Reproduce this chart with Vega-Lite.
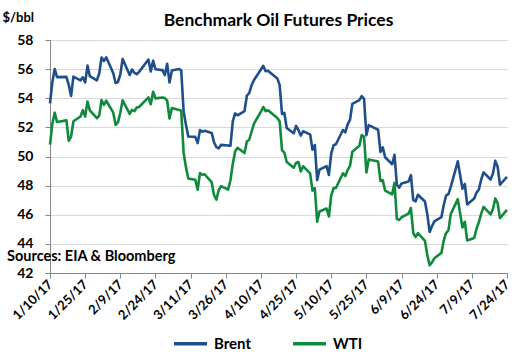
{
  "$schema": "https://vega.github.io/schema/vega-lite/v6.json",
  "width": 457,
  "height": 233,
  "autosize": {"type": "none"},
  "padding": {"left": 50, "top": 40, "right": 24, "bottom": 82},
  "background": "white",
  "config": {"font": "Lato", "view": {"stroke": null}},
  "title": {"text": "Benchmark Oil Futures Prices", "fontSize": 17.5, "fontWeight": "bold", "color": "#000000", "anchor": "middle", "offset": -18},
  "datasets": {
    "raw": [
      {"date": "2017-01-10", "Brent": 53.64, "WTI": 50.82},
      {"date": "2017-01-11", "Brent": 55.10, "WTI": 52.25},
      {"date": "2017-01-12", "Brent": 56.01, "WTI": 53.01},
      {"date": "2017-01-13", "Brent": 55.45, "WTI": 52.37},
      {"date": "2017-01-17", "Brent": 55.47, "WTI": 52.48},
      {"date": "2017-01-18", "Brent": 54.92, "WTI": 51.08},
      {"date": "2017-01-19", "Brent": 54.16, "WTI": 51.37},
      {"date": "2017-01-20", "Brent": 55.49, "WTI": 52.42},
      {"date": "2017-01-23", "Brent": 55.23, "WTI": 52.75},
      {"date": "2017-01-24", "Brent": 55.44, "WTI": 53.18},
      {"date": "2017-01-25", "Brent": 55.08, "WTI": 52.75},
      {"date": "2017-01-26", "Brent": 56.24, "WTI": 53.78},
      {"date": "2017-01-27", "Brent": 55.52, "WTI": 53.17},
      {"date": "2017-01-30", "Brent": 55.23, "WTI": 52.63},
      {"date": "2017-01-31", "Brent": 55.70, "WTI": 52.81},
      {"date": "2017-02-01", "Brent": 56.80, "WTI": 53.88},
      {"date": "2017-02-02", "Brent": 56.56, "WTI": 53.54},
      {"date": "2017-02-03", "Brent": 56.81, "WTI": 53.83},
      {"date": "2017-02-06", "Brent": 55.72, "WTI": 53.01},
      {"date": "2017-02-07", "Brent": 55.05, "WTI": 52.17},
      {"date": "2017-02-08", "Brent": 55.12, "WTI": 52.34},
      {"date": "2017-02-09", "Brent": 55.63, "WTI": 53.00},
      {"date": "2017-02-10", "Brent": 56.70, "WTI": 53.86},
      {"date": "2017-02-13", "Brent": 55.59, "WTI": 52.93},
      {"date": "2017-02-14", "Brent": 55.97, "WTI": 53.20},
      {"date": "2017-02-15", "Brent": 55.75, "WTI": 53.11},
      {"date": "2017-02-16", "Brent": 55.65, "WTI": 53.36},
      {"date": "2017-02-17", "Brent": 55.81, "WTI": 53.40},
      {"date": "2017-02-21", "Brent": 56.66, "WTI": 54.06},
      {"date": "2017-02-22", "Brent": 55.84, "WTI": 53.59},
      {"date": "2017-02-23", "Brent": 56.58, "WTI": 54.45},
      {"date": "2017-02-24", "Brent": 55.99, "WTI": 53.99},
      {"date": "2017-02-27", "Brent": 55.93, "WTI": 54.05},
      {"date": "2017-02-28", "Brent": 55.59, "WTI": 54.01},
      {"date": "2017-03-01", "Brent": 56.36, "WTI": 53.83},
      {"date": "2017-03-02", "Brent": 55.08, "WTI": 52.61},
      {"date": "2017-03-03", "Brent": 55.90, "WTI": 53.33},
      {"date": "2017-03-06", "Brent": 56.01, "WTI": 53.20},
      {"date": "2017-03-07", "Brent": 55.92, "WTI": 53.14},
      {"date": "2017-03-08", "Brent": 53.11, "WTI": 50.28},
      {"date": "2017-03-09", "Brent": 52.19, "WTI": 49.28},
      {"date": "2017-03-10", "Brent": 51.37, "WTI": 48.49},
      {"date": "2017-03-13", "Brent": 51.35, "WTI": 48.40},
      {"date": "2017-03-14", "Brent": 50.92, "WTI": 47.72},
      {"date": "2017-03-15", "Brent": 51.81, "WTI": 48.86},
      {"date": "2017-03-16", "Brent": 51.70, "WTI": 48.75},
      {"date": "2017-03-17", "Brent": 51.76, "WTI": 48.78},
      {"date": "2017-03-20", "Brent": 51.62, "WTI": 48.22},
      {"date": "2017-03-21", "Brent": 50.96, "WTI": 47.34},
      {"date": "2017-03-22", "Brent": 50.64, "WTI": 47.04},
      {"date": "2017-03-23", "Brent": 50.56, "WTI": 47.70},
      {"date": "2017-03-24", "Brent": 50.80, "WTI": 47.97},
      {"date": "2017-03-27", "Brent": 50.75, "WTI": 47.73},
      {"date": "2017-03-28", "Brent": 50.75, "WTI": 48.37},
      {"date": "2017-03-29", "Brent": 52.42, "WTI": 49.51},
      {"date": "2017-03-30", "Brent": 52.96, "WTI": 50.35},
      {"date": "2017-03-31", "Brent": 52.83, "WTI": 50.60},
      {"date": "2017-04-03", "Brent": 53.12, "WTI": 50.24},
      {"date": "2017-04-04", "Brent": 54.17, "WTI": 51.03},
      {"date": "2017-04-05", "Brent": 54.36, "WTI": 51.15},
      {"date": "2017-04-06", "Brent": 54.89, "WTI": 51.70},
      {"date": "2017-04-07", "Brent": 55.24, "WTI": 52.24},
      {"date": "2017-04-10", "Brent": 55.98, "WTI": 53.08},
      {"date": "2017-04-11", "Brent": 56.23, "WTI": 53.40},
      {"date": "2017-04-12", "Brent": 55.86, "WTI": 53.11},
      {"date": "2017-04-13", "Brent": 55.89, "WTI": 53.18},
      {"date": "2017-04-17", "Brent": 55.36, "WTI": 52.65},
      {"date": "2017-04-18", "Brent": 54.89, "WTI": 52.41},
      {"date": "2017-04-19", "Brent": 52.93, "WTI": 50.44},
      {"date": "2017-04-20", "Brent": 52.99, "WTI": 50.27},
      {"date": "2017-04-21", "Brent": 51.96, "WTI": 49.62},
      {"date": "2017-04-24", "Brent": 51.60, "WTI": 49.23},
      {"date": "2017-04-25", "Brent": 52.10, "WTI": 49.56},
      {"date": "2017-04-26", "Brent": 51.82, "WTI": 49.62},
      {"date": "2017-04-27", "Brent": 51.44, "WTI": 48.97},
      {"date": "2017-04-28", "Brent": 51.73, "WTI": 49.33},
      {"date": "2017-05-01", "Brent": 51.52, "WTI": 48.84},
      {"date": "2017-05-02", "Brent": 50.46, "WTI": 47.66},
      {"date": "2017-05-03", "Brent": 50.79, "WTI": 47.82},
      {"date": "2017-05-04", "Brent": 48.38, "WTI": 45.52},
      {"date": "2017-05-05", "Brent": 49.10, "WTI": 46.22},
      {"date": "2017-05-08", "Brent": 49.34, "WTI": 46.43},
      {"date": "2017-05-09", "Brent": 48.73, "WTI": 45.88},
      {"date": "2017-05-10", "Brent": 50.22, "WTI": 47.33},
      {"date": "2017-05-11", "Brent": 50.77, "WTI": 47.83},
      {"date": "2017-05-12", "Brent": 50.84, "WTI": 47.84},
      {"date": "2017-05-15", "Brent": 51.82, "WTI": 48.85},
      {"date": "2017-05-16", "Brent": 51.65, "WTI": 48.66},
      {"date": "2017-05-17", "Brent": 52.21, "WTI": 49.07},
      {"date": "2017-05-18", "Brent": 52.51, "WTI": 49.35},
      {"date": "2017-05-19", "Brent": 53.61, "WTI": 50.33},
      {"date": "2017-05-22", "Brent": 53.87, "WTI": 50.73},
      {"date": "2017-05-23", "Brent": 54.15, "WTI": 51.47},
      {"date": "2017-05-24", "Brent": 53.96, "WTI": 51.36},
      {"date": "2017-05-25", "Brent": 51.46, "WTI": 48.90},
      {"date": "2017-05-26", "Brent": 52.15, "WTI": 49.80},
      {"date": "2017-05-30", "Brent": 51.84, "WTI": 49.66},
      {"date": "2017-05-31", "Brent": 50.31, "WTI": 48.32},
      {"date": "2017-06-01", "Brent": 50.63, "WTI": 48.36},
      {"date": "2017-06-02", "Brent": 49.95, "WTI": 47.66},
      {"date": "2017-06-05", "Brent": 49.47, "WTI": 47.40},
      {"date": "2017-06-06", "Brent": 50.12, "WTI": 48.19},
      {"date": "2017-06-07", "Brent": 48.06, "WTI": 45.72},
      {"date": "2017-06-08", "Brent": 47.86, "WTI": 45.64},
      {"date": "2017-06-09", "Brent": 48.15, "WTI": 45.83},
      {"date": "2017-06-12", "Brent": 48.29, "WTI": 46.08},
      {"date": "2017-06-13", "Brent": 48.72, "WTI": 46.46},
      {"date": "2017-06-14", "Brent": 47.00, "WTI": 44.73},
      {"date": "2017-06-15", "Brent": 46.92, "WTI": 44.46},
      {"date": "2017-06-16", "Brent": 47.37, "WTI": 44.74},
      {"date": "2017-06-19", "Brent": 46.91, "WTI": 44.20},
      {"date": "2017-06-20", "Brent": 46.02, "WTI": 43.23},
      {"date": "2017-06-21", "Brent": 44.82, "WTI": 42.53},
      {"date": "2017-06-22", "Brent": 45.22, "WTI": 42.74},
      {"date": "2017-06-23", "Brent": 45.54, "WTI": 43.01},
      {"date": "2017-06-26", "Brent": 45.83, "WTI": 43.38},
      {"date": "2017-06-27", "Brent": 46.65, "WTI": 44.24},
      {"date": "2017-06-28", "Brent": 47.31, "WTI": 44.74},
      {"date": "2017-06-29", "Brent": 47.42, "WTI": 44.93},
      {"date": "2017-06-30", "Brent": 47.92, "WTI": 46.04},
      {"date": "2017-07-03", "Brent": 49.67, "WTI": 47.07},
      {"date": "2017-07-05", "Brent": 47.79, "WTI": 45.13},
      {"date": "2017-07-06", "Brent": 48.11, "WTI": 45.52},
      {"date": "2017-07-07", "Brent": 46.71, "WTI": 44.23},
      {"date": "2017-07-10", "Brent": 47.11, "WTI": 44.40},
      {"date": "2017-07-11", "Brent": 47.52, "WTI": 45.04},
      {"date": "2017-07-12", "Brent": 47.74, "WTI": 45.49},
      {"date": "2017-07-13", "Brent": 48.42, "WTI": 46.08},
      {"date": "2017-07-14", "Brent": 48.91, "WTI": 46.54},
      {"date": "2017-07-17", "Brent": 48.42, "WTI": 46.02},
      {"date": "2017-07-18", "Brent": 48.84, "WTI": 46.40},
      {"date": "2017-07-19", "Brent": 49.70, "WTI": 47.12},
      {"date": "2017-07-20", "Brent": 49.30, "WTI": 46.79},
      {"date": "2017-07-21", "Brent": 48.06, "WTI": 45.77},
      {"date": "2017-07-24", "Brent": 48.60, "WTI": 46.34}
    ],
    "notes": [
      {"date": "2017-01-10", "price": 43.1, "label": "Sources: EIA & Bloomberg"}
    ]
  },
  "layer": [
    {
      "data": {"name": "raw"},
      "transform": [{"fold": ["Brent", "WTI"], "as": ["series", "price"]}],
      "mark": {"type": "line", "strokeWidth": 2.6, "strokeJoin": "round"},
      "encoding": {
        "x": {
          "field": "date", "type": "temporal",
          "scale": {"type": "utc", "domain": [1484006400000, 1500854400000]},
          "axis": {
            "title": null,
            "values": [1484006400000, 1485302400000, 1486598400000, 1487894400000, 1489190400000, 1490486400000, 1491782400000, 1493078400000, 1494374400000, 1495670400000, 1496966400000, 1498262400000, 1499558400000, 1500854400000],
            "tickCount": 30,
            "labelExpr": "utcFormat(datum.value, '%-m/%-d/%y')",
            "labelAngle": -45,
            "labelAlign": "right",
            "labelBaseline": "middle",
            "labelFontSize": 13,
            "labelFontWeight": "bold",
            "labelColor": "#000000",
            "labelPadding": 4,
            "labelOverlap": false,
            "labelBound": false,
            "labelFlush": false,
            "grid": false,
            "tickSize": 5,
            "tickColor": "#868686",
            "domainColor": "#868686",
            "domainWidth": 1
          }
        },
        "y": {
          "field": "price", "type": "quantitative",
          "scale": {"domain": [42, 58], "nice": false, "zero": false},
          "axis": {
            "title": "$/bbl",
            "titleAngle": 0,
            "titleX": -48,
            "titleY": -23,
            "titleAlign": "left",
            "titleBaseline": "middle",
            "titleFontSize": 13,
            "titleFontWeight": "bold",
            "titleColor": "#000000",
            "values": [42, 44, 46, 48, 50, 52, 54, 56, 58],
            "tickCount": 30,
            "format": ".0f",
            "labelOverlap": false,
            "labelFontSize": 14,
            "labelFontWeight": "bold",
            "labelColor": "#000000",
            "labelPadding": 12,
            "tickSize": 5,
            "tickColor": "#868686",
            "domainColor": "#868686",
            "gridColor": "#d9d9d9",
            "gridWidth": 1,
            "grid": true
          }
        },
        "color": {
          "field": "series", "type": "nominal",
          "scale": {"domain": ["Brent", "WTI"], "range": ["#1f4e8c", "#0f8a3c"]},
          "legend": {
            "orient": "none",
            "legendX": 122,
            "legendY": 285,
            "direction": "horizontal",
            "title": null,
            "symbolType": "stroke",
            "symbolSize": 1089,
            "symbolStrokeWidth": 3.5,
            "labelFontSize": 15,
            "labelFontWeight": "bold",
            "labelColor": "#000000",
            "labelOffset": 5,
            "columnPadding": 34
          }
        }
      }
    },
    {
      "data": {"name": "notes"},
      "mark": {"type": "text", "align": "left", "baseline": "middle", "dx": -43, "fontSize": 14.5, "fontWeight": "bold", "color": "#000000"},
      "encoding": {
        "x": {"field": "date", "type": "temporal"},
        "y": {"field": "price", "type": "quantitative"},
        "text": {"field": "label"}
      }
    }
  ]
}
